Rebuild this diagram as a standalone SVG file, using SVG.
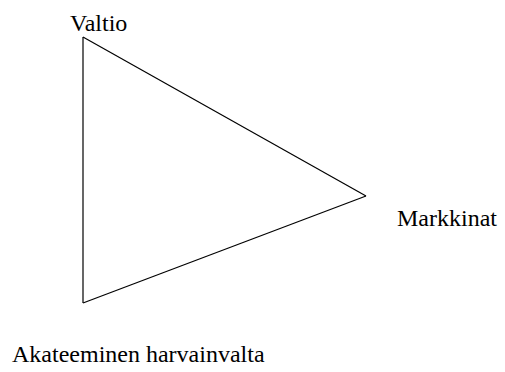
<svg xmlns="http://www.w3.org/2000/svg" width="505" height="372" viewBox="0 0 505 372">
<style>
text{font-family:"Liberation Serif","Times New Roman",serif;font-size:24px;fill:#000}
.edge{stroke:#000;stroke-width:1.2;fill:none}
</style>
<rect width="505" height="372" fill="#fff"/>
<g id="connectors">
<line class="edge" x1="83" y1="37" x2="366" y2="196"/>
<line class="edge" x1="366" y1="196" x2="83" y2="303"/>
<line class="edge" x1="83" y1="303" x2="83" y2="37"/>
</g>
<g id="valtio"><text x="70" y="31">Valtio</text></g>
<g id="markkinat"><text x="397" y="226">Markkinat</text></g>
<g id="akateeminen"><text x="12" y="362">Akateeminen harvainvalta</text></g>
</svg>
